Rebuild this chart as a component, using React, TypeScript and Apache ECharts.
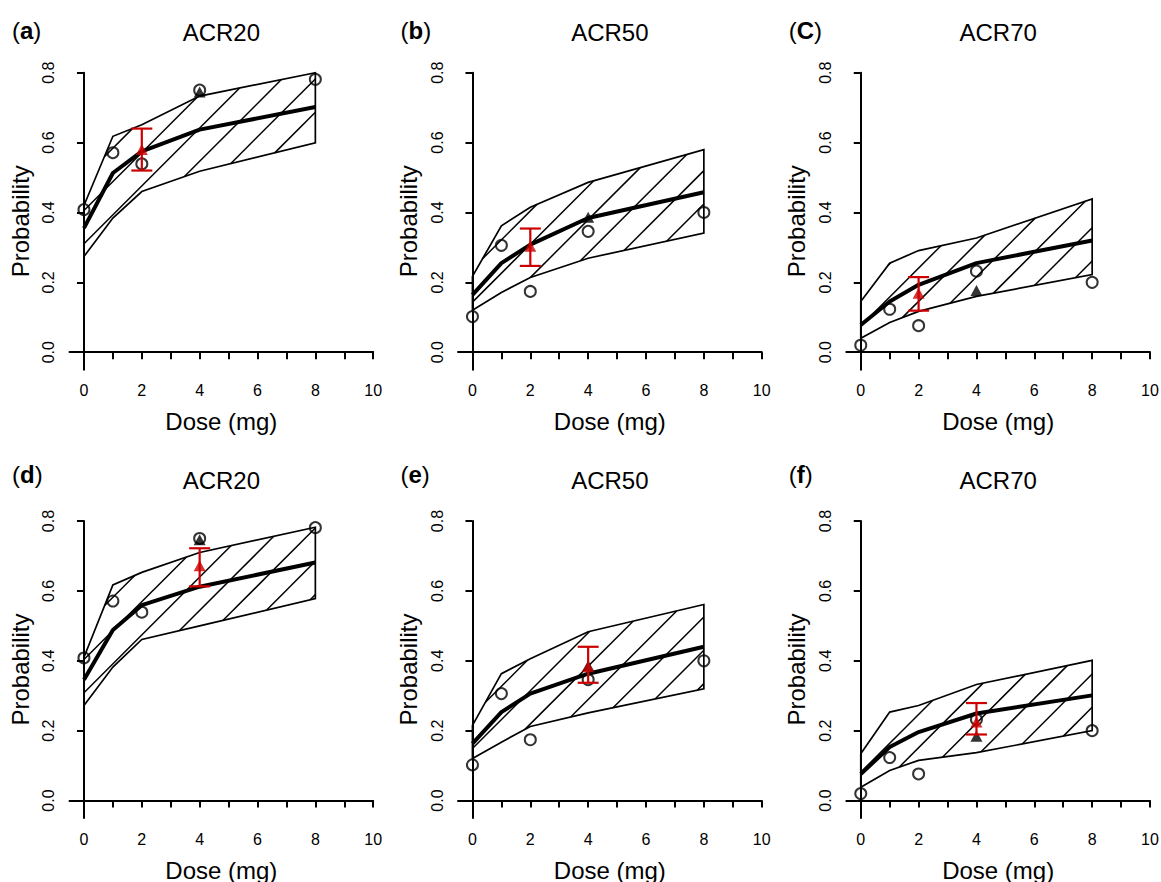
import React, { useEffect, useRef } from 'react';
import * as echarts from 'echarts';

// ---------- data ----------
const doses = [0, 1, 2, 4, 8];
const xTicks = [0, 1, 2, 3, 4, 5, 6, 7, 8, 9, 10];
const xLabels = [0, 2, 4, 6, 8, 10];
const yTicks = [0, 0.2, 0.4, 0.6, 0.8];

// observed response rates (open circles)
const obsACR20 = [0.408, 0.571, 0.539, 0.750, 0.781];
const obsACR50 = [0.102, 0.306, 0.174, 0.346, 0.400];
const obsACR70 = [0.020, 0.123, 0.076, 0.232, 0.200];

// prediction bands (upper / lower) and medians
const aUpper = [0.420, 0.618, 0.651, 0.733, 0.800];
const aLower = [0.274, 0.384, 0.460, 0.518, 0.599];
const aMedian = [0.355, 0.513, 0.575, 0.637, 0.702];

const bUpper = [0.217, 0.362, 0.415, 0.486, 0.580];
const bLower = [0.120, 0.171, 0.214, 0.269, 0.341];
const bMedian = [0.164, 0.255, 0.308, 0.384, 0.458];

const cUpper = [0.145, 0.255, 0.291, 0.327, 0.439];
const cLower = [0.040, 0.085, 0.117, 0.160, 0.222];
const cMedian = [0.078, 0.145, 0.193, 0.255, 0.320];

const dUpper = [0.410, 0.617, 0.653, 0.710, 0.782];
const dLower = [0.272, 0.382, 0.461, 0.500, 0.578];
const dMedian = [0.346, 0.488, 0.559, 0.612, 0.681];

const eUpper = [0.215, 0.363, 0.406, 0.483, 0.561];
const eLower = [0.120, 0.167, 0.212, 0.251, 0.320];
const eMedian = [0.163, 0.253, 0.306, 0.363, 0.440];

const fUpper = [0.134, 0.253, 0.272, 0.332, 0.401];
const fLower = [0.038, 0.086, 0.115, 0.137, 0.200];
const fMedian = [0.076, 0.153, 0.196, 0.249, 0.301];

// black triangles [dose, value]
const blackA = [4, 0.745];
const blackB = [4, 0.386];
const blackC = [4, 0.177];
const blackD = [4, 0.746];
const blackE = [4, 0.386];
const blackF = [4, 0.184];

// red predictions [dose, value, low, high]
const redA = [2, 0.580, 0.520, 0.640];
const redB = [2, 0.303, 0.247, 0.354];
const redC = [2, 0.169, 0.119, 0.215];
const redD = [4, 0.672, 0.613, 0.722];
const redE = [4, 0.383, 0.337, 0.440];
const redF = [4, 0.225, 0.189, 0.279];

// ---------- layout / style ----------
const FONT = '"Liberation Sans", Arial, Helvetica, sans-serif';
const RED = '#cc0000';
const GRID_W = 303.7;
const GRID_H = 297;
const LEFTS = [69.5, 458, 846.3];
const TOPS = [72.7, 521];
const TITLE_Y = [32.5, 480];
const LABEL_Y = [30, 474];
const HATCH_SLOPE = 1;
const HATCH_SPACING = 33.3;

const panels = [
  { label: 'a', title: 'ACR20', upper: aUpper, lower: aLower, median: aMedian, obs: obsACR20, black: blackA, red: redA, row: 0, col: 0, phase: 24.7 },
  { label: 'b', title: 'ACR50', upper: bUpper, lower: bLower, median: bMedian, obs: obsACR50, black: blackB, red: redB, row: 0, col: 1, phase: 16.5 },
  { label: 'C', title: 'ACR70', upper: cUpper, lower: cLower, median: cMedian, obs: obsACR70, black: blackC, red: redC, row: 0, col: 2, phase: 7 },
  { label: 'd', title: 'ACR20', upper: dUpper, lower: dLower, median: dMedian, obs: obsACR20, black: blackD, red: redD, row: 1, col: 0, phase: 25.5 },
  { label: 'e', title: 'ACR50', upper: eUpper, lower: eLower, median: eMedian, obs: obsACR50, black: blackE, red: redE, row: 1, col: 1, phase: 14.6 },
  { label: 'f', title: 'ACR70', upper: fUpper, lower: fLower, median: fMedian, obs: obsACR70, black: blackF, red: redF, row: 1, col: 2, phase: 5 },
];

function hatchBand(upper: number[], lower: number[], phase: number) {
  return (params: any, api: any) => {
    if (params.dataIndex !== 0) return null;
    const up = doses.map((d, i) => api.coord([d, upper[i]]));
    const lo = doses.map((d, i) => api.coord([d, lower[i]])).reverse();
    const poly = up.concat(lo);
    const o = api.coord([0, 0]);
    const s = HATCH_SLOPE;
    const c0 = s * (o[0] + phase) + o[1];
    const step = s * HATCH_SPACING;
    const cs = poly.map((p: number[]) => s * p[0] + p[1]);
    const cmin = Math.min(...cs);
    const cmax = Math.max(...cs);
    const children: any[] = [];
    for (let k = Math.ceil((cmin - c0) / step); c0 + k * step <= cmax; k++) {
      const c = c0 + k * step;
      const pts: number[][] = [];
      for (let i = 0; i < poly.length; i++) {
        const j = (i + 1) % poly.length;
        const fi = cs[i] - c;
        const fj = cs[j] - c;
        if ((fi < 0) !== (fj < 0)) {
          const t = fi / (fi - fj);
          pts.push([
            poly[i][0] + t * (poly[j][0] - poly[i][0]),
            poly[i][1] + t * (poly[j][1] - poly[i][1]),
          ]);
        }
      }
      pts.sort((p, q) => p[0] - q[0]);
      for (let m = 0; m + 1 < pts.length; m += 2) {
        children.push({
          type: 'line',
          shape: { x1: pts[m][0], y1: pts[m][1], x2: pts[m + 1][0], y2: pts[m + 1][1] },
          style: { stroke: '#000', lineWidth: 1.5 },
        });
      }
    }
    children.push({
      type: 'polygon',
      shape: { points: poly },
      style: { fill: 'none', stroke: '#000', lineWidth: 1.7, lineJoin: 'miter' },
    });
    return { type: 'group', children };
  };
}

function errorBar(params: any, api: any) {
  const x = api.value(0);
  const lo = api.value(1);
  const hi = api.value(2);
  const t = api.coord([x, hi]);
  const b = api.coord([x, lo]);
  const w = 10.5;
  const st = { stroke: RED, lineWidth: 2.2 };
  return {
    type: 'group',
    children: [
      { type: 'line', shape: { x1: t[0], y1: t[1], x2: b[0], y2: b[1] }, style: st },
      { type: 'line', shape: { x1: t[0] - w, y1: t[1], x2: t[0] + w, y2: t[1] }, style: st },
      { type: 'line', shape: { x1: b[0] - w, y1: b[1], x2: b[0] + w, y2: b[1] }, style: st },
    ],
  };
}

function buildOption() {
  const grid: any[] = [];
  const xAxis: any[] = [];
  const yAxis: any[] = [];
  const series: any[] = [];
  const graphic: any[] = [];
  const axisLineStyle = { color: '#000', width: 2 };

  panels.forEach((p, i) => {
    const left = LEFTS[p.col];
    const top = TOPS[p.row];
    grid.push({ left, top, width: GRID_W, height: GRID_H, containLabel: false, outerBoundsMode: 'none' });
    xAxis.push({
      type: 'value', gridIndex: i, min: -0.5, max: 10,
      axisLine: { show: true, lineStyle: axisLineStyle },
      axisTick: { show: true, length: 7, lineStyle: axisLineStyle, customValues: xTicks },
      axisLabel: { show: true, customValues: xLabels, margin: 13, fontSize: 16, color: '#000', fontFamily: FONT },
      splitLine: { show: false },
      name: 'Dose (mg)', nameLocation: 'middle', nameGap: 40,
      nameTextStyle: { fontSize: 24, color: '#000', fontFamily: FONT },
    });
    yAxis.push({
      type: 'value', gridIndex: i, min: -0.05, max: 0.8,
      axisLine: { show: true, lineStyle: axisLineStyle },
      axisTick: { show: true, length: 7, lineStyle: axisLineStyle, customValues: yTicks },
      axisLabel: {
        show: true, customValues: yTicks, rotate: 90, margin: 13, fontSize: 16, color: '#000', fontFamily: FONT,
        formatter: (v: number) => v.toFixed(1),
      },
      splitLine: { show: false },
      name: 'Probability', nameLocation: 'middle', nameGap: 37.5, nameRotate: 90,
      nameTextStyle: { fontSize: 24, color: '#000', fontFamily: FONT },
    });

    series.push({
      type: 'custom', xAxisIndex: i, yAxisIndex: i, silent: true, z: 2,
      renderItem: hatchBand(p.upper, p.lower, p.phase),
      data: doses.map((d, j) => [d, p.upper[j], p.lower[j]]),
      encode: { x: 0, y: [1, 2] },
    });
    series.push({
      type: 'line', xAxisIndex: i, yAxisIndex: i, z: 3, silent: true,
      data: doses.map((d, j) => [d, p.median[j]]),
      symbol: 'none', lineStyle: { color: '#000', width: 4 },
    });
    series.push({
      type: 'scatter', xAxisIndex: i, yAxisIndex: i, z: 4, silent: true,
      data: doses.map((d, j) => [d, p.obs[j]]),
      symbol: 'circle', symbolSize: 11,
      itemStyle: { color: 'rgba(255,255,255,0)', borderColor: '#000', borderWidth: 2 },
    });
    series.push({
      type: 'scatter', xAxisIndex: i, yAxisIndex: i, z: 5, silent: true,
      data: [[p.black[0], p.black[1]]],
      symbol: 'triangle', symbolSize: [12, 11], itemStyle: { color: '#000' },
    });
    series.push({
      type: 'custom', xAxisIndex: i, yAxisIndex: i, z: 6, silent: true,
      renderItem: errorBar,
      data: [[p.red[0], p.red[2], p.red[3]]],
      encode: { x: 0, y: [1, 2] },
    });
    series.push({
      type: 'scatter', xAxisIndex: i, yAxisIndex: i, z: 7, silent: true,
      data: [[p.red[0], p.red[1]]],
      symbol: 'triangle', symbolSize: [12, 11], itemStyle: { color: RED },
    });

    graphic.push({
      type: 'text', x: left + GRID_W / 2, y: TITLE_Y[p.row], silent: true,
      style: { text: p.title, font: `24px ${FONT}`, fill: '#000', align: 'center', verticalAlign: 'middle' },
    });
    graphic.push({
      type: 'text', x: left - 57.5, y: LABEL_Y[p.row], silent: true,
      style: {
        text: `{p|(}{b|${p.label}}{p|)}`,
        verticalAlign: 'middle', align: 'left',
        rich: {
          p: { fontSize: 24, fontFamily: FONT, fill: '#000' },
          b: { fontSize: 24, fontFamily: FONT, fontWeight: 'bold', fill: '#000' },
        },
      },
    });
  });

  return {
    animation: false,
    backgroundColor: '#fff',
    grid, xAxis, yAxis, series, graphic,
  };
}

export default function App() {
  const ref = useRef<HTMLDivElement>(null);
  useEffect(() => {
    if (!ref.current) return;
    const chart = echarts.init(ref.current, undefined, { renderer: 'svg' });
    chart.setOption(buildOption() as any);
    return () => chart.dispose();
  }, []);
  return (
    <div
      ref={ref}
      style={{ position: 'absolute', left: 0, top: 0, width: 1161, height: 882, background: '#fff' }}
    />
  );
}
